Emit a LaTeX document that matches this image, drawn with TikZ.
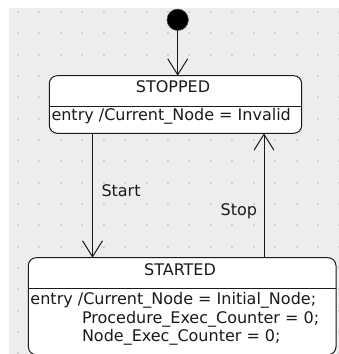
\documentclass[tikz,border=0pt]{standalone}
\usepackage{fontspec}
\setmainfont{DejaVu Sans}
\usetikzlibrary{arrows.meta}
\definecolor{canvas}{HTML}{EDEDED}
\definecolor{griddot}{HTML}{D2D2D2}
\definecolor{ink}{HTML}{1A1A1A}
\tikzset{
  statebox/.style={draw=ink, line width=1pt, fill=white, rectangle,
    rounded corners=8pt, inner sep=0pt, outer sep=0pt},
  trans/.style={draw=ink, line width=1pt,
    -{Straight Barb[length=16pt,width=20pt,line width=1pt]}},
  txt/.style={inner sep=0pt, outer sep=0pt, text=ink,
    font=\fontsize{16}{18.6}\selectfont},
  initial/.style={circle, fill=black, draw=black!70, line width=0.6pt,
    minimum size=21.4pt, inner sep=0pt, outer sep=0pt}
}
\begin{document}
\begin{tikzpicture}[x=1pt,y=-1pt]
  \useasboundingbox (0,0) rectangle (339,354);
  % canvas with dotted grid
  \fill[canvas] (9,8) rectangle (339,354);
  \foreach \i in {0,...,15}{
    \foreach \j in {0,...,16}{
      \fill[griddot] ({18+21.43*\i-1},{12+21.33*\j-1}) rectangle ++(2,2);
    }
  }

  % states
  \node[initial] (init) at (177.7,19.8) {};
  \node[statebox, minimum width=252.4pt, minimum height=57.6pt] (stopped) at (175.5,104.5) {};
  \node[statebox, minimum width=307.7pt, minimum height=97pt] (started) at (182.15,306.2) {};

  % compartment dividers
  \draw[ink, line width=1pt] (stopped.west |- 0,106) -- (stopped.east |- 0,106);
  \draw[ink, line width=1pt] (started.west |- 0,288.3) -- (started.east |- 0,288.3);

  % state names and entry actions
  \node[txt] (stoppedname) at (173,86.7) {STOPPED};
  \node[txt, anchor=west] (stoppedentry) at (51.5,116.8) {entry /Current\_Node = Invalid};
  \node[txt] (startedname) at (180,270) {STARTED};
  \node[txt, anchor=west] (startedentry) at (30.5,300) {entry /Current\_Node = Initial\_Node;};
  \node[txt, anchor=west] (startedproc) at (82,319.3) {Procedure\_Exec\_Counter = 0;};
  \node[txt, anchor=west] (startednode) at (82,337.5) {Node\_Exec\_Counter = 0;};

  % transitions
  \draw[trans] (init.south) -- (init.south |- stopped.north);
  \draw[trans] ([xshift=43.2pt]stopped.south west) -- ([xshift=43.2pt]stopped.south west |- started.north)
    node[txt, pos=0.46, right=9pt] (startlabel) {Start};
  \draw[trans] ([xshift=-37.7pt]stopped.south east |- started.north) -- ([xshift=-37.7pt]stopped.south east)
    node[txt, pos=0.37, left=7pt] (stoplabel) {Stop};
\end{tikzpicture}
\end{document}
